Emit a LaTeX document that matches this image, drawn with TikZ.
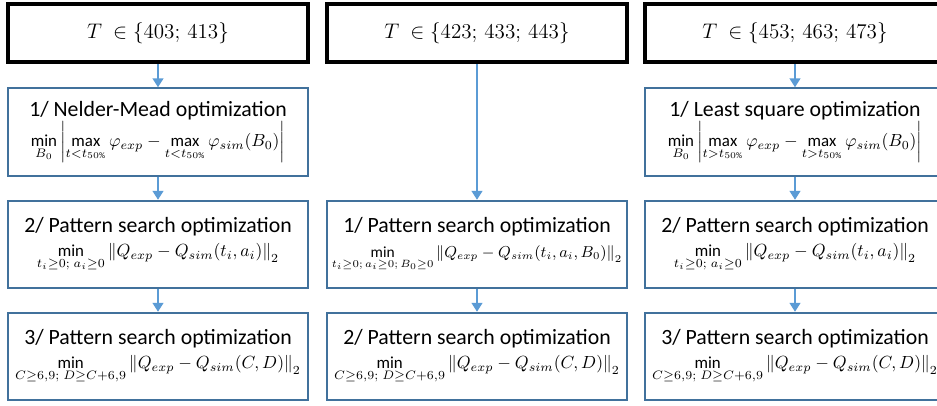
\documentclass[tikz,border=0pt]{standalone}
\usepackage{amsmath,amssymb}
\usepackage{fontspec}
\setmainfont{Carlito}
\usetikzlibrary{arrows.meta}
\definecolor{boxblue}{RGB}{65,113,156}
\definecolor{arrowblue}{RGB}{91,155,213}
\newcommand{\tset}[1]{$T\ \in \{#1\}$}
\newcommand{\fsmall}{\fontsize{9.6}{12}\selectfont}

\begin{document}
\begin{tikzpicture}[
  tbox/.style={shape=rectangle, draw=black, line width=2.8pt, minimum width=6cm, minimum height=1.16cm, font=\fontsize{13}{15}\selectfont},
  obox/.style={shape=rectangle, draw=boxblue, line width=1.1pt, minimum width=6cm, minimum height=1.75cm, inner xsep=1pt, align=center, font=\fontsize{12.4}{14}\selectfont},
  link/.style={draw=arrowblue, line width=1.1pt, -{Triangle[width=6pt,length=5pt]}}
]
\useasboundingbox (0,0) rectangle (18.74,-8.12);

% T = 403, 413
\path (3.16,-0.66) node (T1) [tbox] {\tset{403;\, 413}};
\path (3.16,-2.64) node (A1) [obox] {1/ Nelder-Mead optimization\\
  {\fsmall $\displaystyle\min_{B_0}\left|\max_{t<t_{50\%}}\varphi_{exp}-\max_{t<t_{50\%}}\varphi_{sim}(B_0)\right|$}};
\path (3.16,-4.89) node (A2) [obox] {2/ Pattern search optimization\\
  {\fsmall $\displaystyle\min_{t_i\geq0;\; a_i\geq0}\left\|Q_{exp}-Q_{sim}(t_i,a_i)\right\|_2$}};
\path (3.16,-7.13) node (A3) [obox] {3/ Pattern search optimization\\
  {\fsmall $\displaystyle\min_{C\geq6{,}9;\; D\geq C+6{,}9}\left\|Q_{exp}-Q_{sim}(C,D)\right\|_2$}};

\draw [link] (T1) to (A1);
\draw [link] (A1) to (A2);
\draw [link] (A2) to (A3);

% T = 423, 433, 443
\path (9.54,-0.66) node (T2) [tbox] {\tset{423;\, 433;\, 443}};
\path (9.54,-4.89) node (B1) [obox] {1/ Pattern search optimization\\
  {\fontsize{8.8}{12}\selectfont $\displaystyle\min_{t_i\geq0;\, a_i\geq0;\, B_0\geq0}\left\|Q_{exp}-Q_{sim}(t_i,a_i,B_0)\right\|_2$}};
\path (9.54,-7.13) node (B2) [obox] {2/ Pattern search optimization\\
  {\fsmall $\displaystyle\min_{C\geq6{,}9;\; D\geq C+6{,}9}\left\|Q_{exp}-Q_{sim}(C,D)\right\|_2$}};

\draw [link] (T2) to (B1);
\draw [link] (B1) to (B2);

% T = 453, 463, 473
\path (15.9,-0.66) node (T3) [tbox] {\tset{453;\, 463;\, 473}};
\path (15.9,-2.64) node (C1) [obox] {1/ Least square optimization\\
  {\fsmall $\displaystyle\min_{B_0}\left|\max_{t>t_{50\%}}\varphi_{exp}-\max_{t>t_{50\%}}\varphi_{sim}(B_0)\right|$}};
\path (15.9,-4.89) node (C2) [obox] {2/ Pattern search optimization\\
  {\fsmall $\displaystyle\min_{t_i\geq0;\; a_i\geq0}\left\|Q_{exp}-Q_{sim}(t_i,a_i)\right\|_2$}};
\path (15.9,-7.13) node (C3) [obox] {3/ Pattern search optimization\\
  {\fsmall $\displaystyle\min_{C\geq6{,}9;\; D\geq C+6{,}9}\left\|Q_{exp}-Q_{sim}(C,D)\right\|_2$}};

\draw [link] (T3) to (C1);
\draw [link] (C1) to (C2);
\draw [link] (C2) to (C3);

\end{tikzpicture}
\end{document}
